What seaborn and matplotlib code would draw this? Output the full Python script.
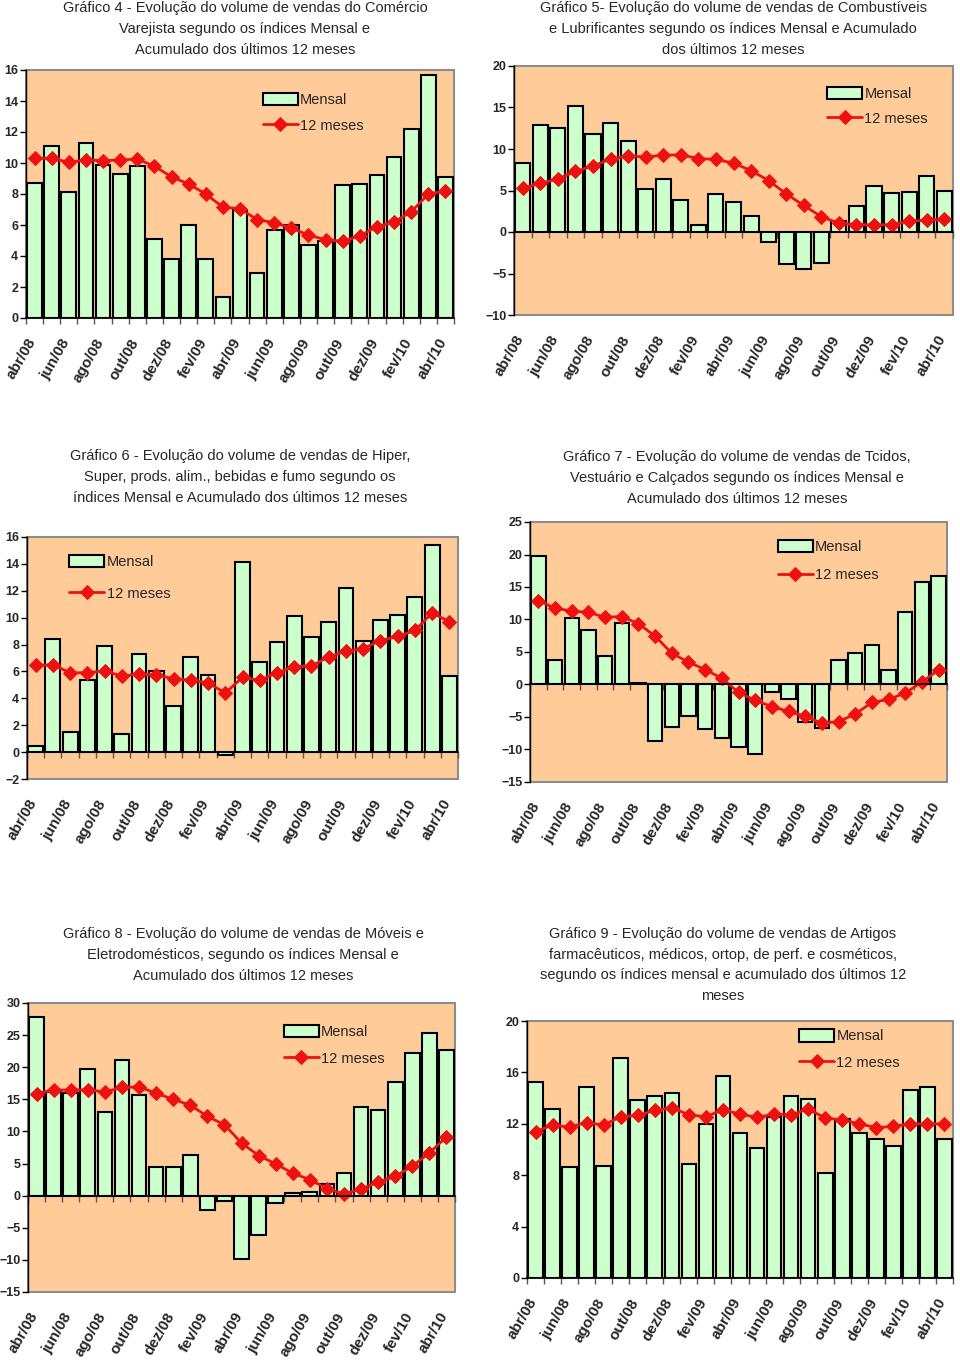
import matplotlib
matplotlib.use("Agg")
import matplotlib.pyplot as plt
import matplotlib.transforms as mtransforms
import seaborn as sns
import numpy as np

# Dados (variação % mensal e acumulado 12 meses)
months = ["abr/08", "mai/08", "jun/08", "jul/08", "ago/08", "set/08", "out/08",
          "nov/08", "dez/08", "jan/09", "fev/09", "mar/09", "abr/09", "mai/09",
          "jun/09", "jul/09", "ago/09", "set/09", "out/09", "nov/09", "dez/09",
          "jan/10", "fev/10", "mar/10", "abr/10"]

mensal4 = [8.7, 11.1, 8.15, 11.3, 9.9, 9.3, 9.8, 5.1, 3.8, 6.0, 3.8, 1.33, 7.0,
           2.9, 5.65, 6.0, 4.7, 5.0, 8.6, 8.65, 9.2, 10.4, 12.2, 15.7, 9.1]
acum4 = [10.3, 10.3, 10.05, 10.2, 10.15, 10.2, 10.25, 9.8, 9.1, 8.65, 8.0, 7.15,
         7.05, 6.35, 6.15, 5.8, 5.35, 5.05, 4.95, 5.3, 5.9, 6.2, 6.85, 8.0, 8.2]

mensal5 = [8.3, 12.85, 12.5, 15.2, 11.85, 13.1, 10.95, 5.2, 6.4, 3.85, 0.85, 4.55,
           3.6, 1.9, -1.2, -3.8, -4.45, -3.7, 1.3, 3.1, 5.5, 4.75, 4.8, 6.7, 5.0]
acum5 = [5.3, 5.85, 6.4, 7.3, 7.95, 8.8, 9.15, 9.05, 9.25, 9.3, 8.85, 8.75, 8.3,
         7.4, 6.2, 4.6, 3.2, 1.85, 1.05, 0.9, 0.85, 0.9, 1.3, 1.4, 1.55]

mensal6 = [0.47, 8.45, 1.5, 5.4, 7.9, 1.36, 7.3, 6.05, 3.45, 7.05, 5.7, -0.2,
           14.15, 6.7, 8.2, 10.1, 8.55, 9.7, 12.2, 8.25, 9.8, 10.2, 11.55, 15.4, 5.65]
acum6 = [6.45, 6.5, 5.9, 5.9, 6.05, 5.65, 5.8, 5.75, 5.45, 5.35, 5.15, 4.4, 5.55,
         5.35, 5.9, 6.35, 6.4, 7.1, 7.5, 7.7, 8.3, 8.6, 9.05, 10.35, 9.7]

mensal7 = [19.7, 3.8, 10.25, 8.4, 4.35, 9.4, 0.3, -8.75, -6.5, -4.8, -6.9, -8.3,
           -9.65, -10.75, -1.1, -2.2, -5.75, -6.65, 3.8, 4.8, 6.1, 2.25, 11.2, 15.7, 16.65]
acum7 = [12.9, 11.75, 11.3, 11.1, 10.35, 10.45, 9.35, 7.45, 4.8, 3.45, 2.3, 0.95,
         -1.2, -2.45, -3.4, -4.15, -4.9, -5.95, -5.7, -4.55, -2.75, -2.3, -1.3, 0.4, 2.25]

mensal8 = [27.8, 16.2, 16.0, 19.7, 13.1, 21.2, 15.7, 4.4, 4.4, 6.3, -2.2, -0.9,
           -9.85, -6.1, -1.1, 0.45, 0.55, 1.85, 3.5, 13.8, 13.4, 17.65, 22.2, 25.4, 22.7]
acum8 = [15.9, 16.45, 16.45, 16.5, 16.15, 16.85, 16.95, 15.95, 15.0, 14.1, 12.35,
         11.05, 8.2, 6.25, 4.95, 3.5, 2.5, 1.1, 0.25, 1.05, 2.1, 3.0, 4.6, 6.65, 9.15]

mensal9 = [15.25, 13.15, 8.6, 14.9, 8.75, 17.1, 13.85, 14.2, 14.4, 8.9, 12.0, 15.7,
           11.25, 10.15, 12.55, 14.2, 13.95, 8.2, 12.35, 11.3, 10.8, 10.3, 14.65, 14.9, 10.8]
acum9 = [11.4, 11.9, 11.75, 12.1, 11.9, 12.55, 12.65, 13.05, 13.25, 12.7, 12.55,
         13.1, 12.75, 12.5, 12.75, 12.7, 13.15, 12.45, 12.3, 12.0, 11.7, 11.8, 12.0, 12.0, 12.0]

titles = [
    "Gráfico 4 - Evolução do volume de vendas do Comércio\nVarejista segundo os índices Mensal e\nAcumulado dos últimos 12 meses",
    "Gráfico 5- Evolução do volume de vendas de Combustíveis\ne Lubrificantes segundo os índices Mensal e Acumulado\ndos últimos 12 meses",
    "Gráfico 6 - Evolução do volume de vendas de Hiper,\nSuper, prods. alim., bebidas e fumo segundo os\níndices Mensal e Acumulado dos últimos 12 meses",
    "Gráfico 7 - Evolução do volume de vendas de Tcidos,\nVestuário e Calçados segundo os índices Mensal e\nAcumulado dos últimos 12 meses",
    "Gráfico 8 - Evolução do volume de vendas de Móveis e\nEletrodomésticos, segundo os índices Mensal e\nAcumulado dos últimos 12 meses",
    "Gráfico 9 - Evolução do volume de vendas de Artigos\nfarmacêuticos, médicos, ortop, de perf. e cosméticos,\nsegundo os índices mensal e acumulado dos últimos 12\nmeses",
]

# Parameters
W, H = 960, 1360
bar_color = "#ccffcc"
bg_color = "#ffcc99"
line_color = "#ee1111"
main_font = ["Liberation Sans", "DejaVu Sans"]

# pixel box (left, top, right, bottom), y limits, step, legend anchor, spacing, title center
panels = [
    dict(m=mensal4, a=acum4, box=(26, 70, 454, 318), yl=(0, 16), step=2,
         leg=(0.54, 0.93), sp=0.8, tc=(245, 29)),
    dict(m=mensal5, a=acum5, box=(514, 66, 953, 315), yl=(-10, 20), step=5,
         leg=(0.70, 0.94), sp=0.75, tc=(733, 29)),
    dict(m=mensal6, a=acum6, box=(27, 537, 458, 779), yl=(-2, 16), step=2,
         leg=(0.085, 0.95), sp=1.2, tc=(240, 477)),
    dict(m=mensal7, a=acum7, box=(530, 522, 947, 782), yl=(-15, 25), step=5,
         leg=(0.58, 0.955), sp=1.0, tc=(737, 478)),
    dict(m=mensal8, a=acum8, box=(28, 1003, 455, 1292), yl=(-15, 30), step=5,
         leg=(0.585, 0.945), sp=0.9, tc=(243, 955)),
    dict(m=mensal9, a=acum9, box=(527, 1021, 953, 1278), yl=(0, 20), step=4,
         leg=(0.625, 0.99), sp=0.85, tc=(723, 965)),
]

sns.set_style("white")
plt.rcParams["font.family"] = main_font

fig = plt.figure(figsize=(W / 100, H / 100), dpi=100)
x = np.arange(len(months))

for i, p in enumerate(panels):
    l, t, r, b = p["box"]
    ax = fig.add_axes([l / W, 1 - b / H, (r - l) / W, (b - t) / H])
    ax.set_facecolor(bg_color)

    sns.barplot(x=months, y=p["m"], ax=ax, color=bar_color, saturation=1,
                edgecolor="black", linewidth=1.5, width=0.86, label="Mensal")
    sns.lineplot(x=x, y=p["a"], ax=ax, color=line_color, linewidth=2,
                 marker="D", markersize=7, markeredgecolor=line_color,
                 label="12 meses")

    ax.set_xlim(-0.5, len(months) - 0.5)
    ax.set_ylim(*p["yl"])
    ax.set_yticks(np.arange(p["yl"][0], p["yl"][1] + 0.1, p["step"]))
    ax.tick_params(axis="y", direction="out", length=4, width=1, color="black",
                   labelsize=9, pad=1.5, left=True)
    for lab in ax.get_yticklabels():
        lab.set_fontweight("bold")
    ax.set_xlabel("")
    ax.set_ylabel("")

    # frame and zero axis
    ax.patch.set_edgecolor("#8c8c8c")
    ax.patch.set_linewidth(1.5)
    for s in ["top", "right"]:
        ax.spines[s].set_visible(False)
    ax.spines["left"].set_color("black")
    ax.spines["left"].set_linewidth(1)
    ax.spines["bottom"].set_position(("data", 0))
    ax.spines["bottom"].set_color("black")
    ax.spines["bottom"].set_linewidth(1.2)
    ax.set_xticks(np.arange(-0.5, len(months), 1))
    ax.set_xticklabels([])
    ax.tick_params(axis="x", direction="out", length=4, width=1, color="#555555",
                   bottom=True)

    # month labels below the plot area
    trans = mtransforms.offset_copy(ax.get_xaxis_transform(), fig=fig,
                                    x=4, y=-18, units="dots")
    for k in range(0, len(months), 2):
        ax.text(k, 0, months[k], transform=trans, rotation=60, ha="right",
                va="top", fontsize=11, fontweight="bold")

    handles, labels = ax.get_legend_handles_labels()
    order = [labels.index("Mensal"), labels.index("12 meses")]
    ax.legend([handles[j] for j in order], [labels[j] for j in order],
              loc="upper left", bbox_to_anchor=p["leg"], frameon=False,
              handlelength=2.4, handleheight=0.9, handletextpad=0.15,
              labelspacing=p["sp"], borderaxespad=0, fontsize=10.5)

    fig.text(p["tc"][0] / W, 1 - p["tc"][1] / H, titles[i], ha="center",
             va="center", fontsize=10.5, linespacing=1.6)

fig.savefig("out.png", dpi=100)
